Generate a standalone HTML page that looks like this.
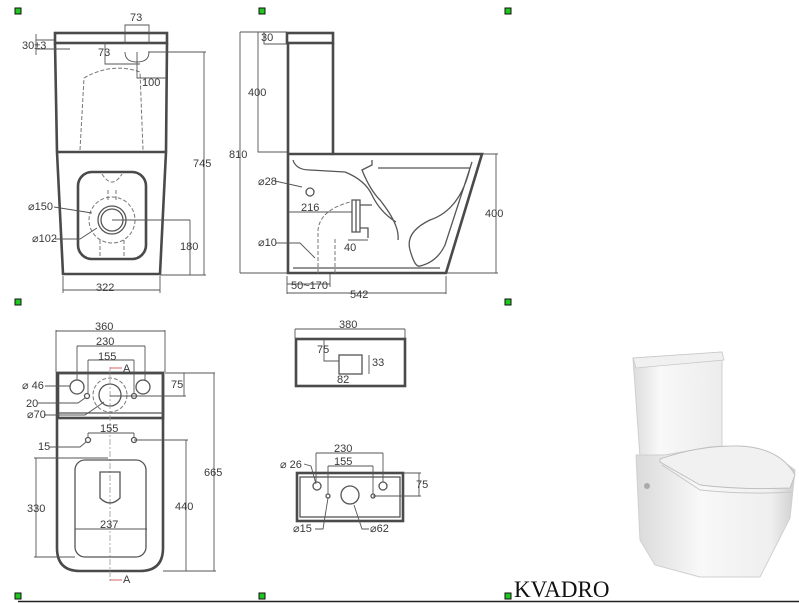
<!DOCTYPE html>
<html><head><meta charset="utf-8">
<style>
html,body{margin:0;padding:0;background:#fff;}
svg{display:block;}
text{font-family:"Liberation Sans",sans-serif;font-size:11px;fill:#3a3a3a;}
.o{fill:none;stroke:#4a4a4a;stroke-width:2.6;}
.t{fill:none;stroke:#555;stroke-width:1.3;}
.d{fill:none;stroke:#555;stroke-width:0.9;}
.da{fill:none;stroke:#777;stroke-width:1;stroke-dasharray:4 2;}
.g{fill:#1ec81e;stroke:#111;stroke-width:1;}
</style></head>
<body>
<svg width="799" height="603" viewBox="0 0 799 603" xmlns="http://www.w3.org/2000/svg">
<rect class="g" x="15" y="8" width="6" height="6"/>
<rect class="g" x="259" y="8" width="6" height="6"/>
<rect class="g" x="505" y="8" width="6" height="6"/>
<rect class="g" x="15" y="299" width="6" height="6"/>
<rect class="g" x="505" y="299" width="6" height="6"/>
<rect class="g" x="15" y="593" width="6" height="6"/>
<rect class="g" x="259" y="593" width="6" height="6"/>
<rect class="g" x="505" y="593" width="6" height="6"/>
<line x1="18" y1="601.5" x2="799" y2="601.5" stroke="#222" stroke-width="1.5"/>

<!-- FRONT VIEW -->
<rect class="o" x="55" y="33" width="112" height="10"/>
<path class="o" d="M55 43 L57 152 L63 274 L160 274 L166 152 L167 43"/>
<line class="o" x1="57" y1="152" x2="166" y2="152"/>
<path class="da" d="M80 150 L84 78 Q112 62 140 72 L143 150"/>
<rect class="o" x="78" y="172" width="68" height="87" rx="14"/>
<circle class="t" cx="112" cy="220" r="14"/>
<circle class="t" cx="112" cy="220" r="11"/>
<circle class="da" cx="112" cy="220" r="23"/>
<path class="da" d="M102 174 Q112 190 122 174 M108 190 L108 200 M116 190 L116 200 M100 240 L100 258 M124 240 L124 258"/>
<path class="d" d="M125 44 L125 25 L149 25 L149 44 M125 52 Q125 62 137 62 Q149 62 149 52"/>
<text x="130" y="21">73</text>
<path class="d" d="M105 42 L105 64 L140 64"/>
<text x="98" y="56">73</text>
<path class="d" d="M137 52 L137 78 L167 78"/>
<text x="142" y="86">100</text>
<path class="d" d="M36 40 L55 40 M36 49 L70 49 M36 34 L36 55"/>
<text x="22" y="49">30±3</text>
<path class="d" d="M148 52 L206 52 M204 52 L204 275 M160 275 L206 275"/>
<text x="193" y="167">745</text>
<path class="d" d="M112 220 L190 220 M190 220 L190 275"/>
<text x="180" y="250">180</text>
<path class="d" d="M63 276 L63 293 M160 276 L160 293 M63 290 L160 290"/>
<text x="96" y="291">322</text>
<path class="d" d="M54 207 L92 213"/><text x="28" y="210">⌀150</text>
<path class="d" d="M55 239 L80 239 L97 228"/><text x="32" y="242">⌀102</text>

<!-- SIDE VIEW -->
<rect class="o" x="287" y="33" width="46" height="10"/>
<path class="o" d="M288 43 L288 273 L446 273 L482 154 L333 154 L333 43"/>
<line class="o" x1="288" y1="154" x2="333" y2="154"/>
<path class="t" d="M293 160 Q296 170 310 170 L345 172 Q365 180 372 195 Q380 212 396 222 M372 160 L372 165 L362 170 Q370 190 380 200 Q400 225 398 240 M378 168 L470 168 M470 168 Q460 210 430 220 Q405 232 410 250 Q415 268 420 266 Q437 262 445 245 L472 162"/>
<path class="t" d="M352 200 L360 200 L360 232 L352 232 Z M356 200 L356 232"/>
<path class="t" d="M360 205 L372 205 M360 228 L368 228 L368 238"/>
<path class="da" d="M318 273 L318 230 Q320 210 350 202 M335 273 L335 238"/>
<path class="t" d="M293 268 L440 268"/>
<path class="d" d="M240 32 L287 32 M240 273 L287 273 M240 32 L240 273"/>
<text x="229" y="158">810</text>
<path class="d" d="M258 32 L258 152 L287 152"/>
<text x="248" y="96">400</text>
<path class="d" d="M264 32 L264 44 L287 44"/><text x="261" y="41">30</text>
<path class="d" d="M482 154 L498 154 M446 273 L498 273 M496 154 L496 273"/>
<text x="485" y="217">400</text>
<path class="d" d="M287 276 L287 294 M446 276 L446 294 M287 293 L446 293"/>
<text x="350" y="298">542</text>
<path class="d" d="M330 274 L330 287 M287 284 L330 284"/><text x="291" y="289">50~170</text>
<circle class="t" cx="310" cy="192" r="4"/>
<path class="d" d="M275 181 L302 187"/><text x="258" y="185">⌀28</text>
<path class="d" d="M288 212 L352 212"/><text x="301" y="211">216</text>
<path class="d" d="M276 243 L300 243 L315 258"/><text x="258" y="246">⌀10</text>
<path class="d" d="M348 240 L368 240"/><text x="344" y="251">40</text>

<!-- TOP VIEW -->
<path class="o" d="M57 373 L163 373 L163 548 Q163 571 140 571 L80 571 Q57 571 57 548 Z"/>
<rect class="o" x="58" y="373" width="105" height="45"/>
<line class="t" x1="58" y1="413" x2="163" y2="413"/>
<circle class="t" cx="77" cy="387" r="7"/>
<circle class="t" cx="143" cy="387" r="7"/>
<circle class="t" cx="87" cy="396" r="2.5"/>
<circle class="t" cx="134" cy="396" r="2.5"/>
<circle class="t" cx="110" cy="395" r="11"/>
<circle class="da" cx="110" cy="395" r="17"/>
<line x1="110" y1="367" x2="110" y2="582" stroke="#999" stroke-width="0.8" stroke-dasharray="6 2 2 2"/>
<path d="M110 368 L122 368 M110 580 L122 580" stroke="#c33" stroke-width="0.8"/>
<text x="123" y="372">A</text><text x="123" y="583">A</text>
<rect class="t" x="75" y="460" width="71" height="97" rx="10"/>
<path class="t" d="M100 472 L120 472 L120 498 Q110 508 100 498 Z"/>
<circle class="t" cx="88" cy="440" r="2.5"/><circle class="t" cx="134" cy="440" r="2.5"/>
<path class="d" d="M56 330 L56 372 M165 330 L165 372 M56 331 L165 331"/><text x="95" y="330">360</text>
<path class="d" d="M77 346 L145 346 M77 346 L77 380 M145 346 L145 380"/><text x="96" y="345">230</text>
<path class="d" d="M88 360 L134 360 M88 360 L88 393 M134 360 L134 393"/><text x="98" y="360">155</text>
<path class="d" d="M165 373 L215 373 M110 396 L186 396 M184 373 L184 396"/><text x="171" y="388">75</text>
<path class="d" d="M88 433 L134 433 M88 433 L88 438 M134 433 L134 438"/><text x="100" y="432">155</text>
<path class="d" d="M163 571 L216 571 M214 373 L214 571"/><text x="204" y="476">665</text>
<path class="d" d="M134 440 L188 440 M186 440 L186 571"/><text x="175" y="510">440</text>
<path class="d" d="M34 458 L108 458 M34 557 L75 557 M36 458 L36 557"/><text x="27" y="512">330</text>
<path class="d" d="M75 529 L147 529"/><text x="100" y="528">237</text>
<path class="d" d="M45 386 L70 386"/><text x="22" y="389">⌀ 46</text>
<path class="d" d="M38 403 L78 403 L85 398"/><text x="26" y="407">20</text>
<path class="d" d="M44 415 L85 415 L104 402"/><text x="27" y="418">⌀70</text>
<path class="d" d="M50 447 L80 447 L86 442"/><text x="38" y="450">15</text>

<!-- TANK TOP -->
<rect class="o" x="296" y="339" width="109" height="47"/>
<path class="d" d="M295 329 L405 329 M295 329 L295 338 M405 329 L405 338"/><text x="339" y="328">380</text>
<rect class="t" x="339" y="355" width="23" height="19"/>
<path class="d" d="M324 339 L324 361 L339 361 M369 355 L369 374 M339 374 L362 374"/>
<text x="317" y="353">75</text><text x="372" y="366">33</text><text x="337" y="383">82</text>

<!-- TANK BOTTOM -->
<rect class="o" x="297" y="473" width="106" height="48"/>
<rect class="t" x="300" y="477" width="100" height="40"/>
<circle class="t" cx="317" cy="486" r="4"/><circle class="t" cx="383" cy="486" r="4"/>
<circle class="t" cx="328" cy="496" r="2"/><circle class="t" cx="373" cy="496" r="2"/>
<circle class="t" cx="350" cy="495" r="9"/>
<path class="d" d="M316 453 L383 453 M316 453 L316 482 M383 453 L383 482"/><text x="334" y="452">230</text>
<path class="d" d="M328 466 L373 466 M328 466 L328 494 M373 466 L373 494"/><text x="334" y="465">155</text>
<path class="d" d="M403 473 L421 473 M373 496 L421 496 M419 473 L419 496"/><text x="416" y="488">75</text>
<path class="d" d="M304 464 L311 466 L316 484"/><text x="280" y="468">⌀ 26</text>
<path class="d" d="M315 529 L323 529 L328 498"/><text x="293" y="532">⌀15</text>
<path class="d" d="M369 529 L362 529 L354 505"/><text x="370" y="532">⌀62</text>

<!-- PHOTO -->
<defs>
<linearGradient id="gt" x1="0" x2="1"><stop offset="0" stop-color="#dcdcdc"/><stop offset="0.3" stop-color="#f8f8f8"/><stop offset="1" stop-color="#ececec"/></linearGradient>
<linearGradient id="gb" x1="0" x2="1"><stop offset="0" stop-color="#dadada"/><stop offset="0.4" stop-color="#f8f8f8"/><stop offset="0.85" stop-color="#efefef"/><stop offset="1" stop-color="#cfcfcf"/></linearGradient>
</defs>
<path d="M633 358 L722 352 L722 460 L640 457 Z" fill="url(#gt)" stroke="#cfcfcf" stroke-width="1"/>
<path d="M633 358 L722 352 L724 360 L636 368 Z" fill="#f0f0f0" stroke="#c8c8c8" stroke-width="0.8"/>
<path d="M636 455 L665 455 L710 447 Q760 442 795 470 L790 518 L760 577 L700 577 L655 565 L640 540 Z" fill="url(#gb)" stroke="#cfcfcf" stroke-width="1"/>
<path d="M660 459 Q700 445 740 446 Q780 448 795 475 L790 488 Q740 490 700 485 L660 462 Z" fill="#f1f1f1" stroke="#bdbdbd" stroke-width="0.9"/>
<path d="M662 465 L700 490 Q750 495 792 492" fill="none" stroke="#c8c8c8" stroke-width="1"/>
<circle cx="647" cy="486" r="3" fill="#aaa"/>
<text x="514" y="597" style="font-family:'Liberation Serif',serif;font-size:23px;fill:#111;">KVADRO</text>
</svg>
</body></html>
